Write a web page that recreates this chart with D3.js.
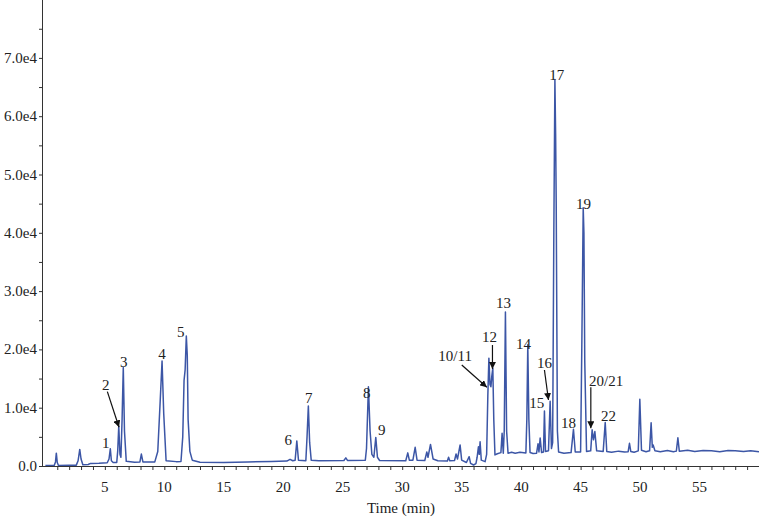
<!DOCTYPE html>
<html>
<head>
<meta charset="utf-8">
<script src="https://cdn.jsdelivr.net/npm/d3@7"></script>
<style>
  body { margin: 0; background: #fff; }
  svg text { font-family: "Liberation Serif", "DejaVu Serif", serif; fill: #222; }
</style>
</head>
<body>
<div id="chart"></div>
<script>
// chromatogram trace: [time (min), intensity]
const trace = [
  [0.0, 100], [0.75, 110], [0.85, 700], [0.92, 2200], [1.0, 600], [1.1, 100],
  [2.0, 120], [2.6, 150], [2.75, 900], [2.89, 2850], [3.0, 1200], [3.15, 200],
  [3.6, 250], [3.8, 450], [4.5, 480], [5.2, 560], [5.35, 1200], [5.46, 2950],
  [5.55, 900], [5.7, 600], [6.0, 620], [6.08, 2500], [6.17, 6850], [6.27, 2000],
  [6.35, 1500], [6.45, 8000], [6.55, 16900], [6.65, 6000], [6.8, 800], [7.5, 650],
  [7.95, 700], [8.07, 2050], [8.2, 700], [9.2, 700], [9.45, 2500], [9.65, 11000],
  [9.81, 18000], [9.95, 9000], [10.15, 900], [11.0, 750], [11.4, 760], [11.55, 5000],
  [11.66, 14700], [11.75, 16500], [11.85, 22300], [11.93, 19000], [12.0, 8000],
  [12.15, 2500], [12.35, 1000], [13, 650], [15, 620], [17, 700], [19, 780],
  [20.3, 850], [20.57, 1150], [20.8, 900], [21.0, 1000], [21.14, 4300], [21.28, 1000],
  [21.9, 900], [22.0, 5000], [22.11, 10300], [22.22, 4000], [22.35, 1000], [23, 900],
  [25.1, 950], [25.26, 1400], [25.4, 950], [26.9, 1000], [27.0, 3000], [27.16, 13600],
  [27.3, 6000], [27.45, 2000], [27.62, 1500], [27.78, 4900], [27.92, 1500], [28.1, 950],
  [30.3, 900], [30.47, 2250], [30.6, 1000], [30.9, 1000], [31.09, 3200], [31.25, 1000],
  [31.9, 950], [32.07, 2400], [32.17, 1500], [32.38, 3700], [32.6, 1200], [33.0, 900],
  [33.8, 850], [33.9, 1500], [34.0, 900], [34.4, 950], [34.53, 2050], [34.65, 1200],
  [34.87, 3600], [35.0, 1000], [35.4, 600], [35.63, 1600], [35.75, 450], [36.0, 170],
  [36.2, 400], [36.3, 1500], [36.41, 3300], [36.48, 2000], [36.55, 4150], [36.65, 1000],
  [36.97, 750], [37.1, 2000], [37.2, 12000], [37.29, 18500], [37.38, 14000], [37.46, 13600],
  [37.54, 15500], [37.62, 16800], [37.7, 8000], [37.8, 1900], [38.0, 2100], [38.3, 2300],
  [38.4, 5600], [38.5, 2200], [38.58, 6000], [38.68, 26400], [38.78, 6000], [38.9, 2200],
  [39.2, 2350], [39.5, 2200], [39.9, 2350], [40.4, 2250], [40.48, 8000], [40.56, 20800],
  [40.65, 8000], [40.75, 2300], [41.0, 2150], [41.3, 2200], [41.42, 3800], [41.5, 2400],
  [41.6, 4800], [41.72, 2300], [41.88, 2400], [41.96, 9450], [42.05, 2500], [42.3, 2600],
  [42.44, 11100], [42.55, 3000], [42.65, 4000], [42.75, 40000], [42.84, 66300], [42.9, 57000],
  [42.95, 45000], [43.05, 6000], [43.15, 2400], [43.6, 2200], [44.2, 2300], [44.4, 6300],
  [44.55, 2400], [45.0, 2400], [45.1, 20000], [45.22, 44300], [45.28, 40000], [45.35, 18000],
  [45.5, 2500], [45.85, 2600], [45.97, 6200], [46.08, 4500], [46.2, 5900], [46.35, 2600],
  [46.9, 2500], [47.07, 7450], [47.2, 2500], [47.6, 2350], [48.2, 2550], [48.7, 2400],
  [49.0, 2450], [49.11, 3900], [49.22, 2500], [49.5, 2350], [49.85, 2600], [49.98, 11450],
  [50.12, 2700], [50.5, 2450], [50.8, 2600], [50.93, 7400], [51.03, 3200], [51.1, 3600],
  [51.25, 2600], [51.7, 2450], [52.3, 2650], [52.8, 2450], [53.05, 2550], [53.18, 4850],
  [53.3, 2550], [54.0, 2700], [54.6, 2500], [55.3, 2650], [56, 2600], [56.7, 2450],
  [57.4, 2650], [58, 2600], [58.7, 2500], [59.3, 2600], [60, 2450]
];

// peak labels: [text, time, intensity] (text baseline, centred)
const peakLabels = [
  ['1', 5.07, 3090], ['2', 5.07, 13040], ['3', 6.59, 17030], ['4', 9.81, 18300],
  ['5', 11.38, 22180], ['6', 20.43, 3550], ['7', 22.15, 10750], ['8', 27.02, 11610],
  ['9', 28.29, 5320], ['10/11', 34.45, 18060], ['12', 37.34, 21320], ['13', 38.51, 27050],
  ['14', 40.2, 20070], ['15', 41.32, 9900], ['16', 41.96, 16760], ['17', 42.99, 66210],
  ['18', 43.98, 6470], ['19', 45.24, 44080], ['20/21', 47.15, 13720], ['22', 47.34, 7720]
];

// arrows: [fromTime, fromInt, toTime, toInt]
const arrows = [
  [5.21, 12750, 6.19, 6640],
  [35.01, 17320, 37.12, 13500],
  [37.59, 20750, 37.59, 16640],
  [41.96, 16470, 42.3, 11320],
  [45.86, 13500, 45.86, 6470]
];

const xTicks = [5, 10, 15, 20, 25, 30, 35, 40, 45, 50, 55];
const yTicks = [0, 1e4, 2e4, 3e4, 4e4, 5e4, 6e4, 7e4];
const yTickLabels = ['0.0', '1.0e4', '2.0e4', '3.0e4', '4.0e4', '5.0e4', '6.0e4', '7.0e4'];

const W = 759, H = 519;
const x0 = 43, baseY = 466;

const svg = d3.select('#chart').append('svg')
  .attr('width', W).attr('height', H);

const x = d3.scaleLinear().domain([-0.2, 60]).range([x0, W]);
const y = d3.scaleLinear().domain([0, 8e4]).range([baseY, baseY - 8 * 58.3]);

// arrow head
svg.append('defs').append('marker')
  .attr('id', 'head')
  .attr('viewBox', '0 0 10 10')
  .attr('refX', 10).attr('refY', 5)
  .attr('markerWidth', 7).attr('markerHeight', 7)
  .attr('markerUnits', 'userSpaceOnUse')
  .attr('orient', 'auto')
  .append('path').attr('d', 'M0,0 L10,5 L0,10 Z').attr('fill', '#111');

// trace
const line = d3.line().x(d => x(d[0])).y(d => y(d[1]));
svg.append('path')
  .datum(trace)
  .attr('fill', 'none')
  .attr('stroke', '#3c56a6')
  .attr('stroke-width', 1.5)
  .attr('stroke-linejoin', 'round')
  .attr('d', line);

// x axis
const xAxis = svg.append('g').attr('transform', `translate(0,${baseY})`);
xAxis.call(d3.axisBottom(x).tickValues(d3.range(1, 60)).tickSize(4).tickFormat(''));
xAxis.call(g => g.select('.domain').attr('d', `M${x0},0.5H${W}`));
xAxis.selectAll('line').attr('stroke', '#333');
xAxis.select('.domain').attr('stroke', '#333');
svg.append('g').selectAll('text')
  .data(xTicks)
  .join('text')
  .attr('x', d => x(d))
  .attr('y', 492)
  .attr('text-anchor', 'middle')
  .style('font-size', '15px')
  .text(d => d);

svg.append('text')
  .attr('x', 401).attr('y', 513)
  .attr('text-anchor', 'middle')
  .style('font-size', '15px')
  .text('Time (min)');

// y axis
const yAxis = svg.append('g').attr('transform', `translate(${x0},0)`);
yAxis.call(d3.axisLeft(y).tickValues(d3.range(0, 8e4, 5e3)).tickSize(4).tickFormat(''));
yAxis.call(g => g.select('.domain').attr('d', `M-0.5,${baseY}V0`));
yAxis.selectAll('line').attr('stroke', '#333');
yAxis.select('.domain').attr('stroke', '#333');
svg.append('g').selectAll('text')
  .data(yTicks)
  .join('text')
  .attr('x', 37)
  .attr('y', d => y(d) + 5)
  .attr('text-anchor', 'end')
  .style('font-size', '15px')
  .text((d, i) => yTickLabels[i]);

// peak labels
svg.append('g').selectAll('text')
  .data(peakLabels)
  .join('text')
  .attr('x', d => x(d[1]))
  .attr('y', d => y(d[2]))
  .attr('text-anchor', 'middle')
  .style('font-size', '15px')
  .text(d => d[0]);

svg.append('g').selectAll('line')
  .data(arrows)
  .join('line')
  .attr('x1', d => x(d[0])).attr('y1', d => y(d[1]))
  .attr('x2', d => x(d[2])).attr('y2', d => y(d[3]))
  .attr('stroke', '#111')
  .attr('stroke-width', 1.2)
  .attr('marker-end', 'url(#head)');
</script>
</body>
</html>
